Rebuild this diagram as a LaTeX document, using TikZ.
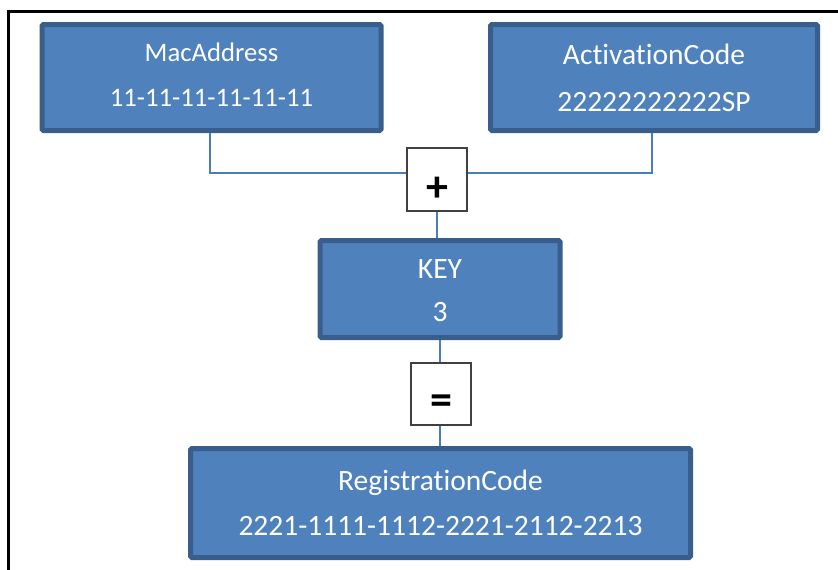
\documentclass[tikz,border=0pt]{standalone}
\usepackage{fontspec}
\setmainfont[Ligatures=NoCommon]{Carlito}
\definecolor{boxfill}{HTML}{4F81BD}
\definecolor{boxedge}{HTML}{3A5E8C}
\definecolor{wire}{HTML}{4A7EBB}
\definecolor{opedge}{HTML}{404040}
\tikzset{
  bluebox/.style={rectangle, rounded corners=1.5pt, fill=boxfill, draw=boxedge,
    line width=5pt, text=white, align=center, inner sep=0pt,
    font=\fontsize{29.5}{47}\selectfont},
  opbox/.style={rectangle, fill=white, draw=opedge, line width=1.6pt,
    inner sep=0pt, font=\fontsize{44}{48}\selectfont\bfseries},
  wireline/.style={draw=wire, line width=2pt}
}
\begin{document}
\begin{tikzpicture}[x=1pt,y=-1pt]
  \useasboundingbox (0,0) rectangle (838,570);
  % outer frame, running past the right and bottom edges
  \begin{scope}
    \clip (0,0) rectangle (838,570);
    \draw[line width=3pt] (8,11.5) rectangle (850,590);
  \end{scope}

  \node[bluebox, minimum width=339pt, minimum height=106pt,
    font=\fontsize{26.7}{45}\selectfont] (mac) at (211.5,77.5)
    {MacAddress\\11-11-11-11-11-11\rule[-6pt]{0pt}{6pt}};
  \node[bluebox, minimum width=327pt, minimum height=106pt] (act) at (654,77.5)
    {ActivationCode\\22222222222SP};
  \node[opbox, minimum width=60pt, minimum height=63pt] (plus) at (437,179.5)
    {\raisebox{-22pt}[0pt][0pt]{+}};
  \node[bluebox, minimum width=240pt, minimum height=97pt,
    font=\fontsize{29.5}{43}\selectfont] (key) at (440,289)
    {\rule{0pt}{23pt}KEY\\3};
  \node[opbox, minimum width=60pt, minimum height=62pt] (eq) at (441,394)
    {\raisebox{-20pt}[0pt][0pt]{=}};
  \node[bluebox, minimum width=500pt, minimum height=109pt,
    font=\fontsize{29.5}{45}\selectfont] (reg) at (440.5,503)
    {RegistrationCode\\2221-1111-1112-2221-2112-2213};

  \draw[wireline] ([xshift=-1.5pt]mac.south) |- ([yshift=6.5pt]plus.west);
  \draw[wireline] ([xshift=-2pt]act.south) |- ([yshift=6.5pt]plus.east);
  \draw[wireline] (plus.south) -- (plus.south |- key.north);
  \draw[wireline] (key.south) -- (key.south |- eq.north);
  \draw[wireline] (eq.south -| key.south) -- (key.south |- reg.north);
\end{tikzpicture}
\end{document}
